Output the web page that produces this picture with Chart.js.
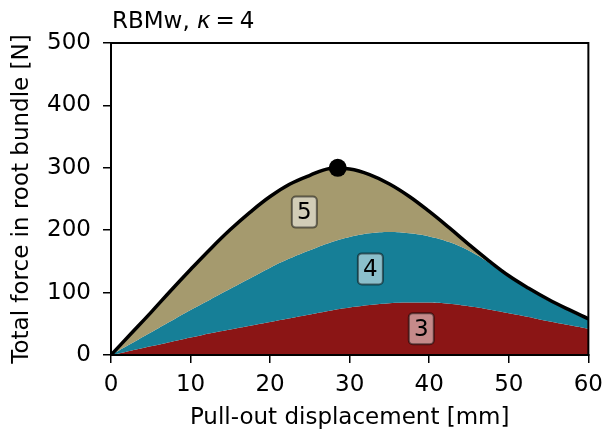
<!DOCTYPE html>
<html>
<head>
<meta charset="utf-8">
<script src="https://cdn.jsdelivr.net/npm/chart.js"></script>
<style>
    html, body { margin: 0; padding: 0; background: #fff; }
    #wrap { width: 611px; height: 434px; }
</style>
</head>
<body>
<div id="wrap"><canvas id="grafica"></canvas></div>
<script>
// ==============================
// DATOS
// ==============================
const desplazamiento = [0, 2.5, 5, 7.5, 10, 12.5, 15, 17.5, 20, 22.5, 25, 27.5,
    30, 32.5, 35, 37.5, 40, 42.5, 45, 47.5, 50, 52.5, 55, 57.5, 60];

// curvas acumuladas: capa 3, capas 3+4, total (3+4+5)
const fuerza3 = [0, 7, 14, 21, 28, 35, 41, 47, 53, 59, 65, 71,
    76, 80, 83, 84, 84, 82, 78, 73, 67, 61, 54, 48, 42];
const fuerza34 = [0, 18, 36, 54, 72, 89, 106, 123, 140, 155, 168, 180,
    189, 195, 197, 195, 190, 181, 167, 148, 125, 105, 87, 71, 56];
const fuerzaTotal = [0, 34, 68, 103, 137, 170, 201, 229, 254, 274, 288, 299,
    298, 289, 274, 254, 230, 204, 177, 151, 127, 107, 89, 73, 58];

const picoX = [28.5];
const picoY = [300];

const ticksX = [0, 10, 20, 30, 40, 50, 60];
const ticksY = [0, 100, 200, 300, 400, 500];

const etiquetasCapa = ["3", "4", "5"];
const posEtiquetas = [[39.0, 42], [32.6, 138], [24.3, 229]];

const FUENTE = "'DejaVu Sans', sans-serif";
const TAM = 23;

function puntos(ys) {
    return desplazamiento.map((x, i) => ({ x: x, y: ys[i] }));
}

// ==============================
// PLUGIN: marco, título y etiquetas
// ==============================
const extras = {
    id: "extras",
    afterDatasetsDraw(chart) {
        const ctx = chart.ctx;
        const sx = chart.scales.x;
        const sy = chart.scales.y;

        // cajas con número de capa
        ctx.save();
        ctx.font = TAM + "px " + FUENTE;
        ctx.textAlign = "center";
        ctx.textBaseline = "middle";
        etiquetasCapa.forEach((txt, i) => {
            const cx = sx.getPixelForValue(posEtiquetas[i][0]);
            const cy = sy.getPixelForValue(posEtiquetas[i][1]);
            const w = 25, h = 31;
            ctx.beginPath();
            ctx.roundRect(cx - w / 2, cy - h / 2, w, h, 4);
            ctx.fillStyle = "rgba(255,255,255,0.5)";
            ctx.fill();
            ctx.lineWidth = 2;
            ctx.strokeStyle = "rgba(0,0,0,0.5)";
            ctx.stroke();
            ctx.fillStyle = "#000";
            ctx.fillText(txt, cx, cy + 1);
        });
        ctx.restore();
    },
    afterDraw(chart) {
        const ctx = chart.ctx;
        const a = chart.chartArea;
        ctx.save();
        ctx.strokeStyle = "#000";
        ctx.lineWidth = 2;
        ctx.strokeRect(a.left, a.top, a.right - a.left, a.bottom - a.top);

        // título: RBMw, κ = 4
        ctx.fillStyle = "#000";
        ctx.textBaseline = "alphabetic";
        ctx.textAlign = "left";
        let x = a.left + 1;
        const y = 28;
        ctx.font = TAM + "px " + FUENTE;
        ctx.fillText("RBMw, ", x, y);
        x += ctx.measureText("RBMw, ").width;
        ctx.font = "italic " + TAM + "px " + FUENTE;
        ctx.fillText("κ", x, y);
        x += ctx.measureText("κ").width + 5;
        ctx.font = TAM + "px " + FUENTE;
        ctx.fillText("=", x, y);
        x += ctx.measureText("=").width + 5;
        ctx.fillText("4", x, y);
        ctx.restore();
    }
};

// ==============================
// GRÁFICA
// ==============================
new Chart(document.getElementById("grafica"), {
    type: "line",
    data: {
        datasets: [
            {
                label: "3",
                data: puntos(fuerza3),
                order: 3,
                borderWidth: 0,
                borderColor: "rgba(0,0,0,0)",
                backgroundColor: "#8b1515",
                fill: "origin",
                pointRadius: 0,
                tension: 0.4
            },
            {
                label: "4",
                data: puntos(fuerza34),
                order: 2,
                borderWidth: 0,
                borderColor: "rgba(0,0,0,0)",
                backgroundColor: "#167f97",
                fill: "-1",
                pointRadius: 0,
                tension: 0.4
            },
            {
                label: "5",
                data: puntos(fuerzaTotal),
                order: 1,
                borderWidth: 3.5,
                borderColor: "#000",
                backgroundColor: "#a59a6e",
                fill: "-1",
                pointRadius: 0,
                tension: 0.4
            },
            {
                label: "pico",
                data: picoX.map((x, i) => ({ x: x, y: picoY[i] })),
                order: 0,
                showLine: false,
                pointRadius: 9,
                pointBackgroundColor: "#000",
                pointBorderWidth: 0,
                fill: false
            }
        ]
    },
    options: {
        responsive: true,
        maintainAspectRatio: false,
        animation: false,
        events: [],
        layout: {
            padding: { top: 43, right: 18, bottom: 0, left: 0 }
        },
        plugins: {
            legend: { display: false },
            tooltip: { enabled: false },
            title: { display: false }
        },
        scales: {
            x: {
                type: "linear",
                min: 0,
                max: 60,
                afterBuildTicks: s => { s.ticks = ticksX.map(v => ({ value: v })); },
                afterFit: s => { s.height = 79; },
                grid: { drawOnChartArea: false, drawTicks: true, tickLength: 8, color: "#000", lineWidth: 1.5 },
                border: { display: true, color: "#000", width: 2 },
                ticks: { color: "#000", padding: 8, maxRotation: 0, font: { family: FUENTE, size: TAM } },
                title: {
                    display: true,
                    text: "Pull-out displacement [mm]",
                    color: "#000",
                    padding: { top: 0, bottom: 2 },
                    font: { family: FUENTE, size: TAM }
                }
            },
            y: {
                type: "linear",
                min: 0,
                max: 500,
                afterBuildTicks: s => { s.ticks = ticksY.map(v => ({ value: v })); },
                afterFit: s => { s.width = 111; },
                grid: { drawOnChartArea: false, drawTicks: true, tickLength: 8, color: "#000", lineWidth: 1.5 },
                border: { display: true, color: "#000", width: 2 },
                ticks: { color: "#000", padding: 12, font: { family: FUENTE, size: TAM } },
                title: {
                    display: true,
                    text: "Total force in root bundle [N]",
                    color: "#000",
                    padding: { top: 8, bottom: 0 },
                    font: { family: FUENTE, size: TAM }
                }
            }
        }
    },
    plugins: [extras]
});
</script>
</body>
</html>
